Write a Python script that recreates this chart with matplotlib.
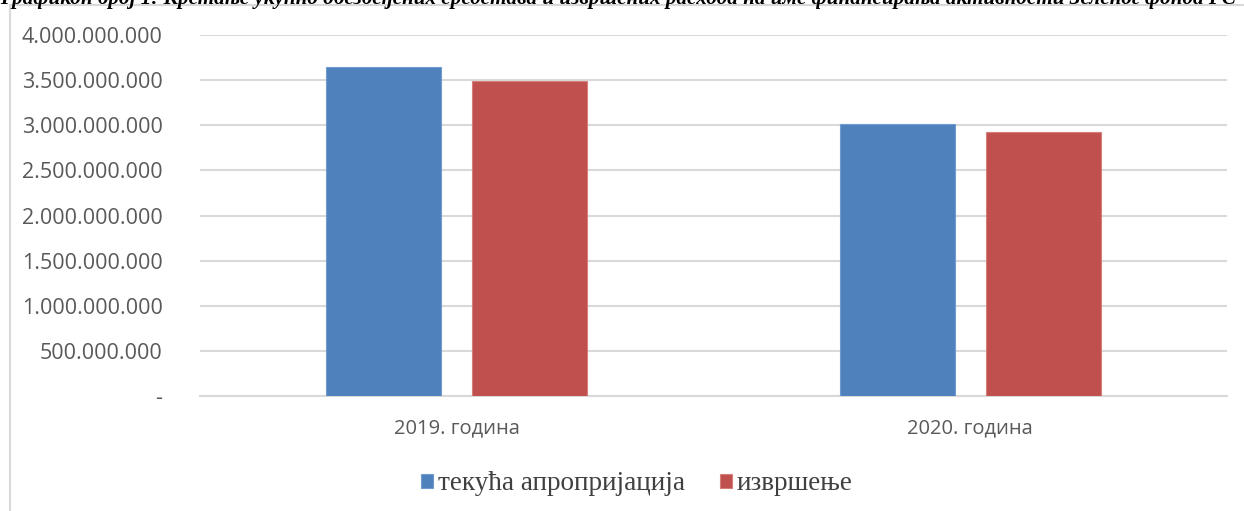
import matplotlib
matplotlib.use("Agg")
import matplotlib.pyplot as plt
from matplotlib.patches import Rectangle
from matplotlib.ticker import FuncFormatter
import numpy as np

categories = ["2019. година", "2020. година"]
series_names = ["текућа апропријација", "извршење"]
appropriation = [3643000000, 3014000000]
execution = [3495000000, 2922000000]
yticks = [0, 500000000, 1000000000, 1500000000, 2000000000, 2500000000,
          3000000000, 3500000000, 4000000000]
title = ("Графикон број 1: Кретање укупно обезбеђених средстава и извршених "
         "расхода на име финансирања активности Зеленог фонда РС")

W, H = 1244, 511
fig = plt.figure(figsize=(W / 100, H / 100), dpi=100)
ax = fig.add_axes([200 / W, 1 - 396 / H, 1027 / W, 361 / H])

x = np.arange(len(categories))
bw = 0.224
off = 0.142
ax.bar(x - off, appropriation, bw, color="#4F81BD", edgecolor="#6F9BD1", linewidth=0.8,
       label=series_names[0], zorder=3)
ax.bar(x + off, execution, bw, color="#C0504D", edgecolor="#D67E7B", linewidth=0.8,
       label=series_names[1], zorder=3)

ax.set_xlim(-0.5, 1.5)
ax.set_ylim(0, 4000000000)
ax.set_yticks(yticks)

def fmt(v, pos):
    if v == 0:
        return "-"
    return f"{int(v):,}".replace(",", ".")

ax.yaxis.set_major_formatter(FuncFormatter(fmt))
ax.set_xticks(x)
ax.set_xticklabels(categories)
ax.grid(axis="y", color="#D9D9D9", linewidth=1.5, zorder=0)
for s in ["top", "right", "left"]:
    ax.spines[s].set_visible(False)
ax.spines["bottom"].set_color("#D9D9D9")
ax.spines["bottom"].set_linewidth(1.5)
ax.tick_params(axis="both", length=0, colors="#595959")
ax.tick_params(axis="y", pad=27, labelsize=15.5)
ax.tick_params(axis="x", pad=16, labelsize=14.5)
for lab in ax.get_yticklabels() + ax.get_xticklabels():
    lab.set_fontfamily("Open Sans")

leg = fig.legend(loc="center", bbox_to_anchor=(637 / W, 1 - 484 / H), ncol=2,
                 frameon=False, prop={"family": "Liberation Serif", "size": 19.5},
                 handlelength=0.44, handleheight=0.44, handletextpad=0.18,
                 columnspacing=1.3)
for t in leg.get_texts():
    t.set_color("#404040")

# chart border
fig.patches.append(Rectangle((10 / W, -0.05), 1.5, 1 - 5 / H + 0.05,
                             transform=fig.transFigure, fill=False,
                             edgecolor="#D9D9D9", linewidth=1.5))

fig.text(0, 1 - 4 / H, title, ha="left", va="baseline",
         fontfamily="Liberation Serif", fontstyle="italic", fontweight="bold",
         fontsize=15.2, color="#000000")

fig.savefig("out.png", dpi=100, facecolor="white")
